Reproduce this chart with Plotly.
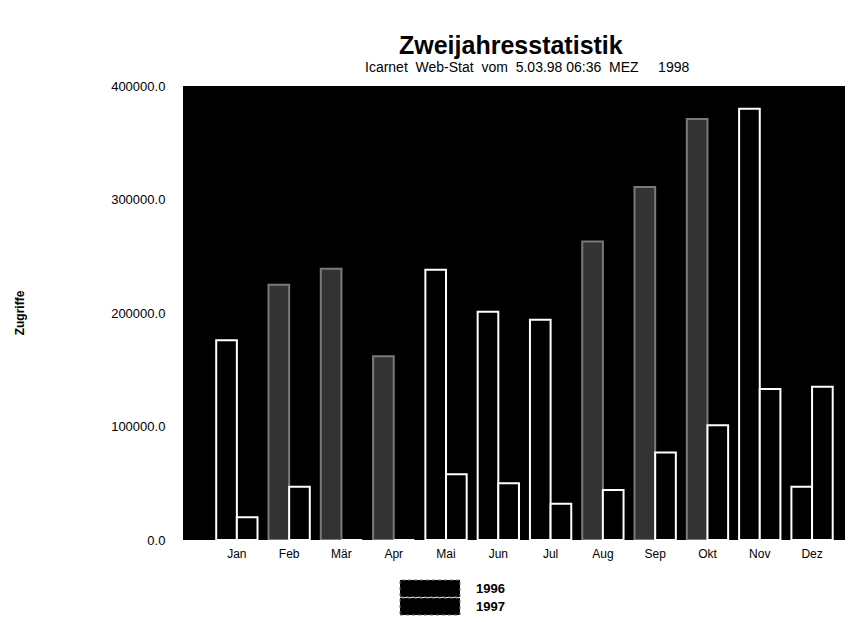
import plotly.graph_objects as go

months = ["Jan", "Feb", "Mär", "Apr", "Mai", "Jun", "Jul", "Aug", "Sep", "Okt", "Nov", "Dez"]
years = ["1996", "1997"]
values_a = [176000, 225000, 239000, 162000, 238000, 201000, 194000, 263000, 311000, 371000, 380000, 47000]
values_b = [20000, 47000, 0, 0, 58000, 50000, 32000, 44000, 77000, 101000, 133000, 135000]
y_ticks = [0, 100000, 200000, 300000, 400000]

title_text = "Zweijahresstatistik"
subtitle_text = "Icarnet  Web-Stat  vom  5.03.98 06:36  MEZ     1998"
y_title = "Zugriffe"

speckled = [False, True, True, True, False, False, False, True, True, True, False, False]
fill_a = ["#333333" if s else "#000000" for s in speckled]
line_a = ["#7a7a7a" if s else "#ffffff" for s in speckled]

font = "Liberation Sans"

W, H = 856, 622
OFF = 8  # page offset of the figure inside the browser window
L, R, T, B = 183 - OFF, W - 845 + OFF, 86 - OFF, H - 540 + OFF

fig = go.Figure()
fig.add_trace(go.Bar(
    x=list(range(len(months))), y=values_a, name=years[0],
    marker=dict(color=fill_a, line=dict(color=line_a, width=2)),
))
fig.add_trace(go.Bar(
    x=list(range(len(months))), y=values_b, name=years[1],
    marker=dict(color="#000000", line=dict(color="#ffffff", width=2)),
))

fig.update_layout(
    width=W, height=H,
    margin=dict(l=L, r=R, t=T, b=B, autoexpand=False),
    paper_bgcolor="#ffffff", plot_bgcolor="#000000",
    barmode="group", bargap=0.21, bargroupgap=0,
    showlegend=False,
    font=dict(family=font, color="#000000"),
    xaxis=dict(
        range=[-1.03, 11.63], tickmode="array",
        tickvals=list(range(len(months))), ticktext=months,
        showgrid=False, zeroline=False, showline=False,
        ticks="outside", ticklen=3, tickcolor="#ffffff",
        tickfont=dict(size=12, family=font),
    ),
    yaxis=dict(
        range=[0, 400000], tickmode="array", tickvals=y_ticks,
        tickformat=".1f", showgrid=False, zeroline=False, showline=False,
        ticks="outside", ticklen=14, tickcolor="#ffffff",
        tickfont=dict(size=13, family=font),
        title=dict(text="<b>" + y_title + "</b>", font=dict(size=12, family=font), standoff=83),
    ),
)

plot_w = W - L - R
plot_h = H - T - B

def px_x(p):
    return (p - OFF - L) / plot_w

def px_y(p):
    return (H - B - (p - OFF)) / plot_h

fig.add_annotation(text="<b>" + title_text + "</b>", xref="paper", yref="paper",
                   x=px_x(511), y=px_y(45), xanchor="center", yanchor="middle",
                   showarrow=False, font=dict(size=25, family=font))
fig.add_annotation(text=subtitle_text, xref="paper", yref="paper",
                   x=px_x(527), y=px_y(67), xanchor="center", yanchor="middle",
                   showarrow=False, font=dict(size=14, family=font))

# legend with large swatches, matching the original look
legend_rows = [(580, 597), (598, 615)]
for name, (y0, y1) in zip(years, legend_rows):
    fig.add_shape(type="rect", xref="paper", yref="paper",
                  x0=px_x(400), x1=px_x(460), y0=px_y(y1), y1=px_y(y0),
                  fillcolor="#000000", line=dict(color="#777777", width=1, dash="dot"))
    fig.add_annotation(text="<b>" + name + "</b>", xref="paper", yref="paper",
                       x=px_x(474), y=px_y((y0 + y1) / 2), xanchor="left",
                       yanchor="middle", showarrow=False,
                       font=dict(size=13, family=font))

fig.write_html("out.html")
